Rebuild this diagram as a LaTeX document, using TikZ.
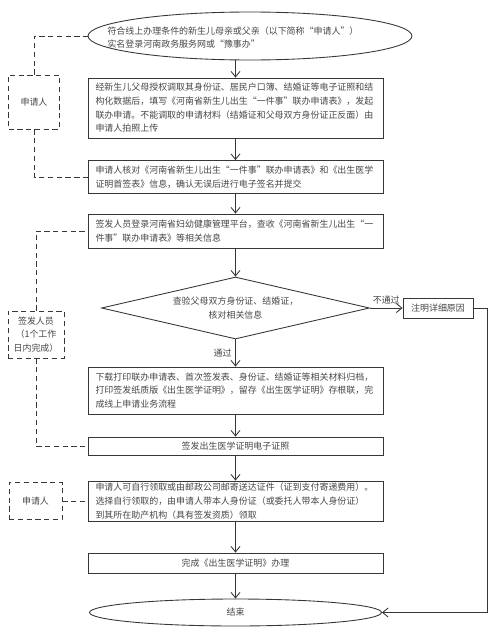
\documentclass[tikz,border=0pt]{standalone}
\usepackage{fontspec}
\setmainfont{Noto Sans CJK SC}
\usepackage{tikz}
\usetikzlibrary{shapes.geometric, arrows.meta, positioning, calc}
\definecolor{LineGray}{RGB}{55, 55, 55}
\definecolor{TextGray}{RGB}{70, 70, 70}

\begin{document}
\begin{tikzpicture}[
    x=0.02cm, y=-0.02cm,
    every node/.style={font=\fontsize{5.1pt}{7.8pt}\selectfont, text=TextGray},
    stepbox/.style={draw=LineGray, line width=0.5pt, minimum width=5.9cm, text width=5.6cm, align=left, inner sep=0pt},
    startend/.style={draw=LineGray, line width=0.5pt, ellipse, inner sep=0pt},
    check/.style={draw=LineGray, line width=0.5pt, diamond, aspect=4.3, minimum width=5.36cm, minimum height=1.24cm, inner sep=0pt, align=center},
    party/.style={draw=LineGray, line width=0.5pt, densely dashed, align=center, inner sep=0pt},
    flow/.style={-{Straight Barb[length=1.1mm, width=1.8mm]}, draw=LineGray, line width=0.5pt},
    link/.style={densely dashed, draw=LineGray, line width=0.5pt}
  ]
    \useasboundingbox (0,0) rectangle (500,636);

    % Start
    \node[startend, minimum width=6.48cm, minimum height=0.96cm] (start) at (250,36) {};
    \node[text width=5.5cm, align=left, inner sep=0pt] (starttext) at (245,37.5) {符合线上办理条件的新生儿母亲或父亲（以下简称“申请人”）\\实名登录河南政务服务网或“豫事办”};

    % Applicant steps
    \node[stepbox, minimum height=1.2cm] (apply) at (235.5,108) {经新生儿父母授权调取其身份证、居民户口簿、结婚证等电子证照和结\\构化数据后，填写《河南省新生儿出生“一件事”联办申请表》，发起\\联办申请。不能调取的申请材料（结婚证和父母双方身份证正反面）由\\申请人拍照上传};
    \node[stepbox, minimum height=0.66cm] (confirm) at (235.5,177) {申请人核对《河南省新生儿出生“一件事”联办申请表》和《出生医学\\证明首签表》信息，确认无误后进行电子签名并提交};

    % Signer steps
    \node[stepbox, minimum height=0.68cm] (review) at (235.5,231) {签发人员登录河南省妇幼健康管理平台，查收《河南省新生儿出生“一\\件事”联办申请表》等相关信息};
    \node[check] (verify) at (235.5,308) {查验父母双方身份证、结婚证，\\核对相关信息};
    \node[draw=LineGray, line width=0.5pt, minimum width=1.4cm, minimum height=0.4cm, inner sep=0pt] (reason) at (438,308) {注明详细原因};
    \node[stepbox, minimum height=0.94cm] (archive) at (235.5,390.5) {下载打印联办申请表、首次签发表、身份证、结婚证等相关材料归档，\\打印签发纸质版《出生医学证明》，留存《出生医学证明》存根联，完\\成线上申请业务流程};
    \node[stepbox, minimum height=0.36cm, align=center] (issue) at (235.5,446) {签发出生医学证明电子证照};

    % Collection
    \node[stepbox, minimum height=0.8cm] (collect) at (235.5,501) {申请人可自行领取或由邮政公司邮寄送达证件（证到支付寄递费用）。\\选择自行领取的，由申请人带本人身份证（或委托人带本人身份证）\\到其所在助产机构（具有签发资质）领取};
    \node[stepbox, minimum height=0.4cm, align=center] (done) at (235.5,563) {完成《出生医学证明》办理};
    \node[startend, minimum width=5.84cm, minimum height=0.54cm] (finish) at (235.5,612.5) {结束};

    % Roles (left)
    \node[party, minimum width=1.02cm, minimum height=1.08cm] (applicant) at (34,102) {申请人};
    \node[party, minimum width=1.12cm, minimum height=0.94cm] (signer) at (36,334.5) {签发人员\\（1个工作\\日内完成）};
    \node[party, minimum width=1.06cm, minimum height=0.74cm] (applicant2) at (35.5,501) {申请人};

    % Main flow
    \draw[flow] (start.south -| apply.north) -- (apply.north);
    \draw[flow] (apply.south) -- (confirm.north);
    \draw[flow] (confirm.south) -- (review.north);
    \draw[flow] (review.south) -- (verify.north);
    \draw[flow] (verify.south) -- node[midway, left, inner sep=2pt] {通过} (archive.north);
    \draw[flow] (archive.south) -- (issue.north);
    \draw[flow] (issue.south) -- (collect.north);
    \draw[flow] (collect.south) -- (done.north);
    \draw[flow] (done.south) -- (finish.north);

    % Rejected
    \draw[flow] (verify.east) -- node[midway, above, inner sep=2pt] {不通过} (reason.west);
    \coordinate (back) at (487,308);
    \draw[flow] (reason.east) -- (back) |- (finish.east);

    % Role links
    \draw[link] (applicant.north) |- (start.west);
    \draw[link] (applicant.south) |- (confirm.west);
    \draw[link] (signer.north) |- (review.west);
    \draw[link] (signer.south) |- (issue.west);
    \draw[link] (applicant2.east) -- (collect.west);
  \end{tikzpicture}
\end{document}
